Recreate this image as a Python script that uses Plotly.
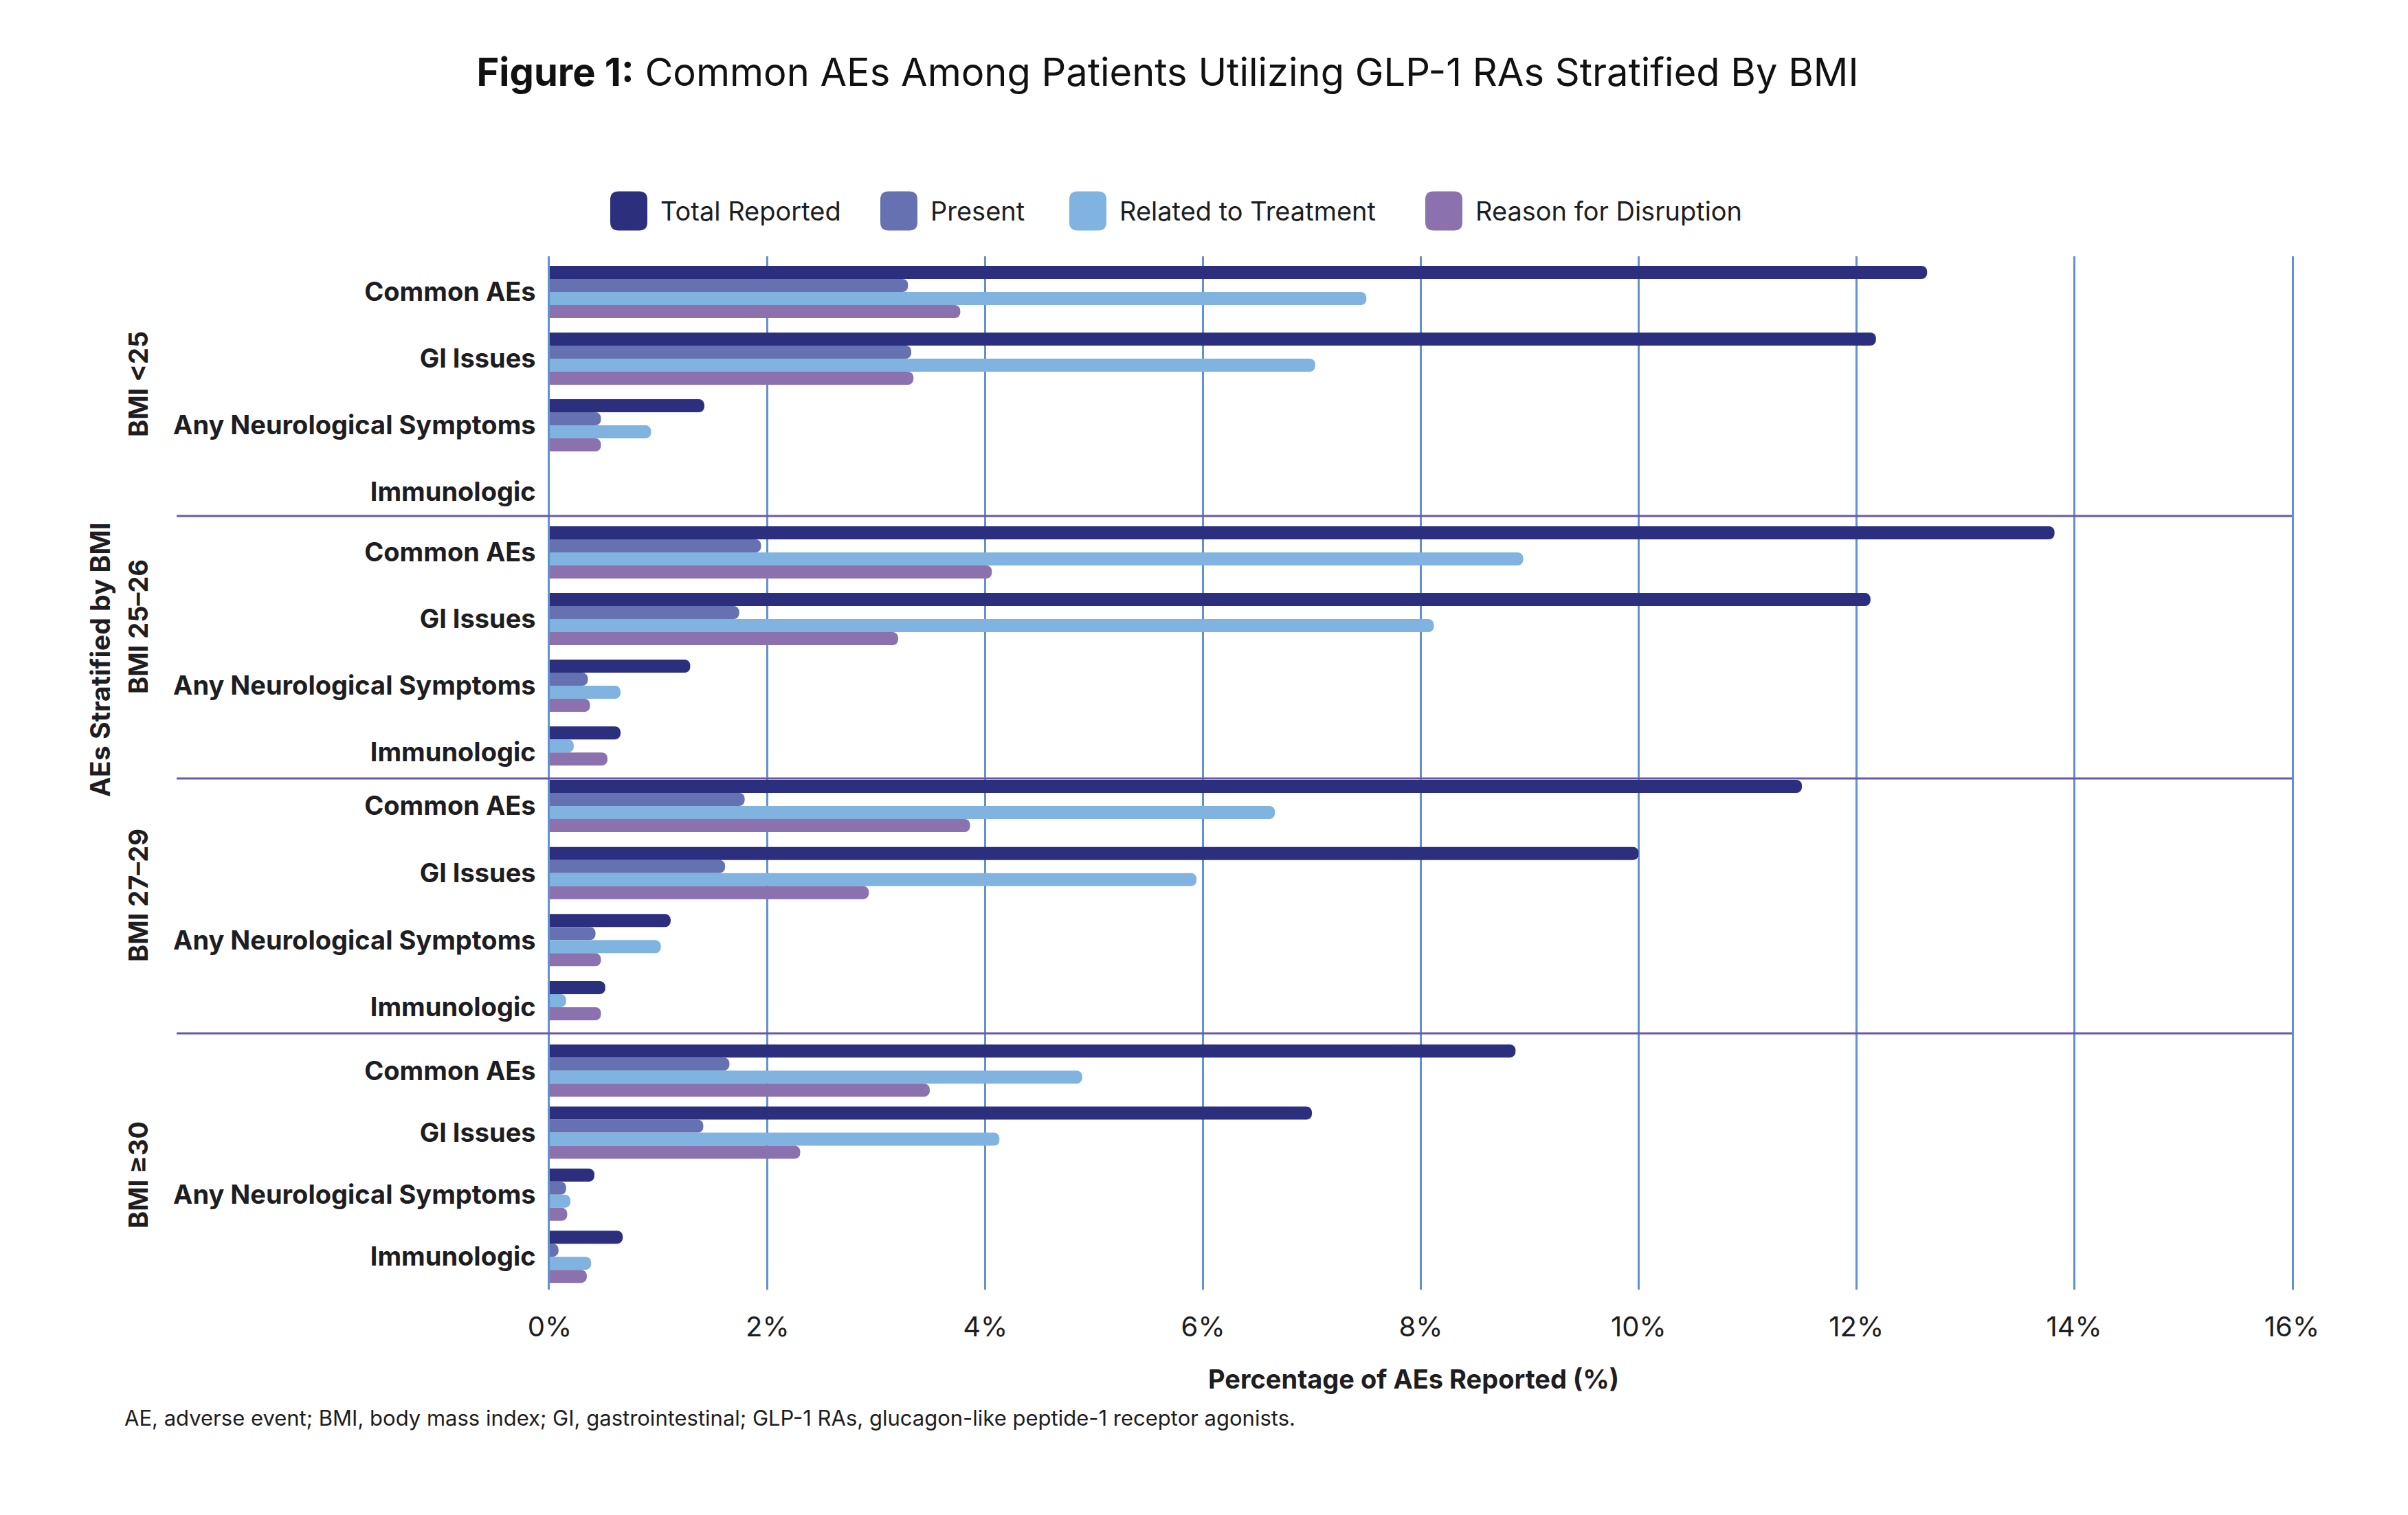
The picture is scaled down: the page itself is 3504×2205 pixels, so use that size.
import plotly.graph_objects as go
from plotly.subplots import make_subplots

# data (percent of AEs reported)
groups = ["BMI <25", "BMI 25–26", "BMI 27–29", "BMI ≥30"]
categories = ["Common AEs", "GI Issues", "Any Neurological Symptoms", "Immunologic"]
series = ["Total Reported", "Present", "Related to Treatment", "Reason for Disruption"]

total_reported = [
    [12.65, 12.18, 1.42, None],
    [13.82, 12.13, 1.29, 0.65],
    [11.50, 10.00, 1.11, 0.51],
    [8.87, 7.00, 0.41, 0.67],
]
present = [
    [3.29, 3.32, 0.47, None],
    [1.94, 1.74, 0.35, None],
    [1.79, 1.61, 0.42, None],
    [1.65, 1.41, 0.15, 0.08],
]
related = [
    [7.50, 7.03, 0.93, None],
    [8.94, 8.12, 0.65, 0.22],
    [6.66, 5.94, 1.02, 0.15],
    [4.89, 4.13, 0.19, 0.38],
]
reason = [
    [3.77, 3.34, 0.47, None],
    [4.06, 3.20, 0.37, 0.53],
    [3.86, 2.93, 0.47, 0.47],
    [3.49, 2.30, 0.16, 0.34],
]
x_ticks = [0, 2, 4, 6, 8, 10, 12, 14, 16]

values = [total_reported, present, related, reason]
colors = ["#2b2f7e", "#6671b1", "#80b3e0", "#8b72ae"]

W, H = 3504, 2205
OFF = 8  # page body margin
L, R, T, B = 800, 3335, 373, 1877  # plot area in picture pixels
FONT = "Inter"
INK = "#1d1d22"
GRID = "#5f92d2"
DIVIDER = "#6a58a6"

# layout of the four BMI panels (pixel rows, padded category ranges)
row_px = [378, 382, 371, 373]
y_ranges = [(3.36, -0.536), (3.39, -0.546), (3.39, -0.41), (3.53, -0.6)]
label_y = [559, 912, 1303, 1710]
bar_px = 19


def px(x):
    return (x - L) / (R - L)


def py(y):
    return (B - y) / (B - T)


fig = make_subplots(rows=4, cols=1, shared_xaxes=True, vertical_spacing=0,
                    row_heights=row_px)

for g in range(len(groups)):
    lo, hi = y_ranges[g]
    slot = bar_px * (lo - hi) / row_px[g]
    # bars of a category are stacked from the top slot, skipping missing series
    offsets = [[0] * len(categories) for _ in series]
    for c in range(len(categories)):
        shown = [s for s in range(len(series)) if values[s][g][c]]
        for k, s in enumerate(shown):
            offsets[s][c] = -len(series) * slot / 2 + k * slot
    for s, name in enumerate(series):
        fig.add_trace(go.Bar(
            y=categories, x=values[s][g], orientation="h", name=name,
            marker=dict(color=colors[s], cornerradius=8, line_width=0),
            offset=offsets[s], width=slot, showlegend=False,
        ), row=g + 1, col=1)
    fig.update_yaxes(
        type="category", categoryorder="array", categoryarray=categories,
        range=[lo, hi], showgrid=False, zeroline=False,
        showline=True, mirror=True, linecolor=GRID, linewidth=2.5,
        ticks="", ticklabelstandoff=10,
        tickfont=dict(family=FONT, size=38, color=INK, weight="bold"),
        row=g + 1, col=1)
    # group label
    fig.add_annotation(
        text="<b>%s</b>" % groups[g], textangle=-90, showarrow=False,
        xref="paper", x=px(201), xanchor="center",
        yref="paper", y=py(label_y[g]), yanchor="middle",
        font=dict(family=FONT, size=38, color=INK))

fig.update_xaxes(
    range=[0, 16], tickvals=x_ticks, ticktext=["%d%%" % v for v in x_ticks],
    showgrid=True, gridcolor=GRID, gridwidth=2.5, zeroline=False, showline=False,
    ticks="", tickfont=dict(family=FONT, size=40, color=INK), layer="above traces")
fig.update_xaxes(ticklabelstandoff=27, row=4, col=1)

# dividers between BMI groups
for yb in [751, 1133, 1504]:
    fig.add_shape(type="line", xref="paper", yref="paper",
                  x0=px(257), x1=1, y0=py(yb), y1=py(yb),
                  line=dict(color=DIVIDER, width=3))

# legend drawn as rounded swatches
legend_x = [888, 1281, 1556, 2074]
ly, sw, sh, rr = 307, 54, 57, 12
for s, name in enumerate(series):
    x0, x1 = legend_x[s], legend_x[s] + sw
    y0, y1 = ly - sh / 2, ly + sh / 2
    path = (f"M {px(x0 + rr)},{py(y0)} L {px(x1 - rr)},{py(y0)} "
            f"Q {px(x1)},{py(y0)} {px(x1)},{py(y0 + rr)} L {px(x1)},{py(y1 - rr)} "
            f"Q {px(x1)},{py(y1)} {px(x1 - rr)},{py(y1)} L {px(x0 + rr)},{py(y1)} "
            f"Q {px(x0)},{py(y1)} {px(x0)},{py(y1 - rr)} L {px(x0)},{py(y0 + rr)} "
            f"Q {px(x0)},{py(y0)} {px(x0 + rr)},{py(y0)} Z")
    fig.add_shape(type="path", path=path, xref="paper", yref="paper",
                  fillcolor=colors[s], line_width=0)
    fig.add_annotation(text=name, showarrow=False, xref="paper", yref="paper",
                       x=px(x1 + 17), y=py(ly), xanchor="left", yanchor="middle",
                       font=dict(family=FONT, size=38, color=INK))

fig.add_annotation(
    text="<b>AEs Stratified by BMI</b>", textangle=-90, showarrow=False,
    xref="paper", yref="paper", x=px(145), y=py(960), xanchor="center", yanchor="middle",
    font=dict(family=FONT, size=39, color=INK))
fig.add_annotation(
    text="<b>Percentage of AEs Reported (%)</b>", showarrow=False,
    xref="paper", yref="paper", x=px(2057), y=py(2007), xanchor="center", yanchor="middle",
    font=dict(family=FONT, size=38, color=INK))
fig.add_annotation(
    text="AE, adverse event; BMI, body mass index; GI, gastrointestinal; "
         "GLP-1 RAs, glucagon-like peptide-1 receptor agonists.",
    showarrow=False, xref="paper", yref="paper", x=px(179), y=py(2063),
    xanchor="left", yanchor="middle", font=dict(family=FONT, size=31, color=INK))

fig.update_layout(
    width=W, height=H, barmode="overlay",
    margin=dict(l=L - OFF, r=W - R + OFF, t=T - OFF, b=H - B + OFF),
    paper_bgcolor="white", plot_bgcolor="white", showlegend=False,
    title=dict(text="<b>Figure 1:</b> Common AEs Among Patients Utilizing GLP-1 RAs Stratified By BMI",
               x=(1699 - OFF) / W, xanchor="center", y=1 - (105 - OFF) / H, yanchor="middle",
               font=dict(family=FONT, size=56, color="#111111")),
)

fig.write_html("out.html")
